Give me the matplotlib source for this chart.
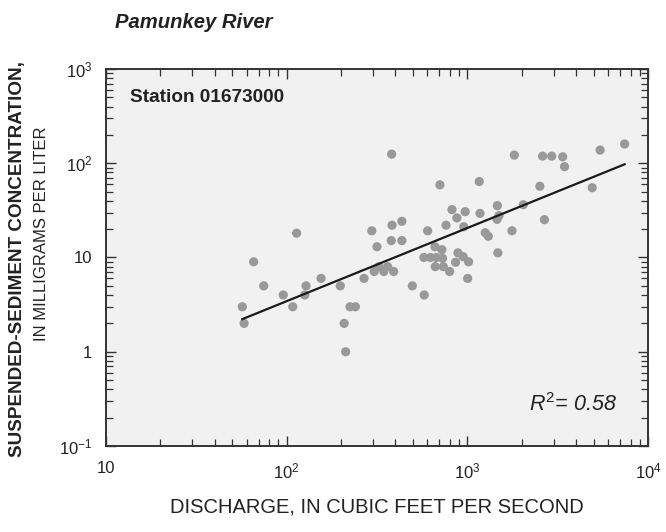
import matplotlib
matplotlib.use("Agg")
import matplotlib.pyplot as plt
from matplotlib.ticker import FixedLocator, LogLocator, NullFormatter
import numpy as np

plt.rcParams['font.family'] = ['Liberation Sans', 'DejaVu Sans']
plt.rcParams['mathtext.fontset'] = 'custom'
plt.rcParams['mathtext.rm'] = 'Liberation Sans'
plt.rcParams['mathtext.it'] = 'Liberation Sans:italic'

station = "Station 01673000"
river = "Pamunkey River"

# discharge (cfs) and suspended-sediment concentration (mg/L)
discharge = [
    381, 113.5, 65.6, 296, 383, 434, 316, 379, 434, 603,
    662, 74.6, 95.7, 128, 126, 155, 108, 56.8, 58.1, 198,
    208, 212, 224, 240, 268, 305, 324, 345, 362, 391,
    496, 577, 575, 624, 673, 664,
    7420, 5430, 1820, 2610, 2930, 3370, 3450, 4910, 2520, 1164,
    705, 1466, 2040, 822, 973, 875, 1175, 1496, 1460, 762,
    955, 1766, 2670, 1256, 1306, 723, 729, 887, 948, 1016,
    861, 736, 798, 1475, 1004,
]
concentration = [
    125, 18.1, 9.0, 19.2, 22, 24.2, 13.0, 15.1, 15.1, 19.2,
    13.0, 5.0, 4.0, 5.0, 4.0, 6.0, 3.0, 3.0, 2.0, 5.0,
    2.0, 1.0, 3.0, 3.0, 6.0, 7.1, 8.0, 7.1, 8.0, 7.1,
    5.0, 4.0, 10.0, 10.0, 10.0, 8.0,
    160, 138, 122, 119, 119, 117, 92, 55, 57, 64,
    59, 35.5, 36.3, 32.2, 30.6, 26.3, 29.4, 27.8, 25.4, 22.0,
    21.2, 19.2, 25.2, 18.3, 16.8, 12.1, 9.8, 11.2, 10.2, 9.0,
    8.9, 8.0, 7.1, 11.2, 6.0,
]

# log10(C) = slope * log10(Q) + intercept
fit_slope = 0.7765
fit_intercept = -1.0164
r_squared = 0.58

fig = plt.figure(figsize=(6.66, 5.32), dpi=100)
ax = fig.add_axes([0.1592, 0.1617, 0.8138, 0.7086])
ax.set_facecolor('#f1f1f1')

ax.scatter(discharge, concentration, s=44, color='#999999', edgecolors='none', zorder=2)

q_line = np.array([min(discharge), max(discharge)])
c_line = 10 ** (fit_slope * np.log10(q_line) + fit_intercept)
ax.plot(q_line, c_line, color='#1a1a1a', lw=1.6, zorder=3)

ax.set_xscale('log')
ax.set_yscale('log')
ax.set_xlim(10, 1e4)
ax.set_ylim(0.1, 1e3)

ax.xaxis.set_major_locator(FixedLocator([10, 100, 1000, 10000]))
ax.set_xticklabels(['10', r'$10^{2}$', r'$10^{3}$', r'$10^{4}$'])
ax.yaxis.set_major_locator(FixedLocator([0.1, 1, 10, 100, 1000]))
ax.set_yticklabels([r'$10^{-1}$', '1', '10', r'$10^{2}$', r'$10^{3}$'])
for axis in (ax.xaxis, ax.yaxis):
    axis.set_minor_locator(LogLocator(base=10, subs=np.arange(2, 10), numticks=20))
    axis.set_minor_formatter(NullFormatter())

ax.tick_params(which='both', direction='in', top=True, right=True,
               color='#333333', labelsize=12, labelcolor='#222222')
ax.tick_params(which='major', length=7, width=1.0)
ax.tick_params(axis='x', which='major', pad=11)
ax.tick_params(axis='y', which='major', pad=10)
ax.tick_params(which='minor', length=5, width=0.9)
for spine in ax.spines.values():
    spine.set_linewidth(1.4)
    spine.set_color('#333333')

ax.text(0.045, 0.925, station, transform=ax.transAxes, fontsize=13.7,
        fontweight='bold', color='#222222', va='center', ha='left')
ax.text(0.943, 0.11, r'$R^{2}$= ' + f'{r_squared:.2f}', transform=ax.transAxes,
        fontsize=15.5, style='italic', color='#222222', va='center', ha='right')

fig.text(0.173, 0.958, river, fontsize=14.6, fontweight='bold', style='italic',
         color='#222222', va='center', ha='left')

fig.text(0.026, 0.513, 'SUSPENDED-SEDIMENT CONCENTRATION,', rotation=90,
         fontsize=13.6, fontweight='bold', color='#222222', va='center', ha='center')
fig.text(0.062, 0.56, 'IN MILLIGRAMS PER LITER', rotation=90,
         fontsize=12, color='#222222', va='center', ha='center')
fig.text(0.566, 0.047, 'DISCHARGE, IN CUBIC FEET PER SECOND',
         fontsize=14.5, color='#222222', va='center', ha='center')

fig.savefig('out.png', dpi=100)
